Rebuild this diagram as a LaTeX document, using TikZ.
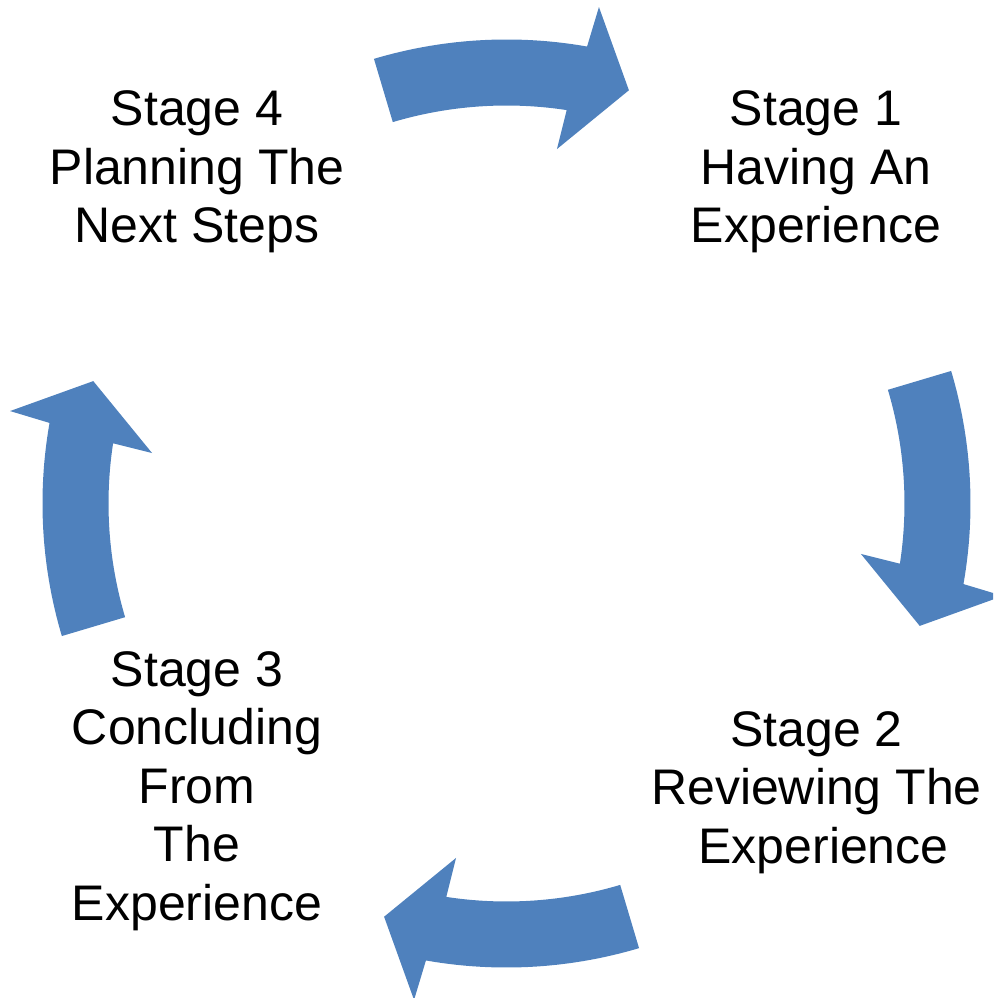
\documentclass[tikz,border=0pt]{standalone}
\usepackage{fontspec}
\setmainfont{Liberation Sans}
\definecolor{cycleblue}{HTML}{4F81BD}
\begin{document}
\begin{tikzpicture}[x=1pt,y=1pt,
  % anchor=base sits on the baseline of the last line of each block
  stagetext/.style={align=center,inner sep=0pt,anchor=base,
    font=\fontsize{50}{58.5}\selectfont},
  cyclearrow/.style={fill=cycleblue,draw=none}]
  \useasboundingbox (-506.5,-494.5) rectangle (486.5,503.5);
  \begin{scope}
    \clip (-506.5,-494.5) rectangle (486.5,503.5);
    % four curved block arrows around the centre, turning clockwise
    \foreach \rot in {0,-90,-180,-270}{
      \fill[cyclearrow,rotate=\rot]
        (106.6:464) arc[start angle=106.6,end angle=80,radius=464]
        -- (79.45:505) -- (73.5:431) -- (81.9:358) -- (81.3:398)
        arc[start angle=81.3,end angle=106.6,radius=398] -- cycle;
    }
  \end{scope}
  \node[stagetext] (s1) at (309.5,260.5) {Stage 1\\Having An\\Experience};
  \node[stagetext] (s2) at (317,-359.5) {Stage 2\kern.278em\\Reviewing The\kern.278em\\Experience};
  \node[stagetext] (s3) at (-309.5,-416.5) {Stage 3\\Concluding\\From\\The\\Experience};
  \node[stagetext] (s4) at (-309.5,260.5) {Stage 4\\Planning The\\Next Steps};
\end{tikzpicture}
\end{document}
